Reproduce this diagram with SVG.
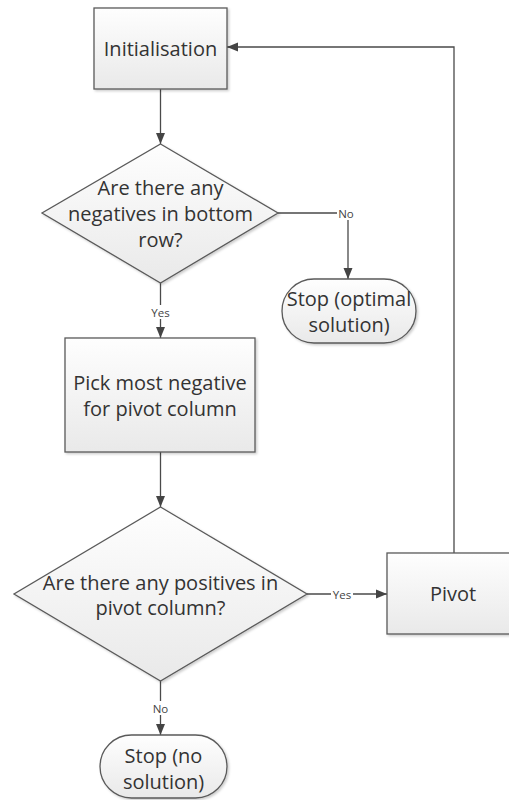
<svg xmlns="http://www.w3.org/2000/svg" width="509" height="800" viewBox="0 0 509 800">
  <defs>
    <linearGradient id="shapeFill" x1="0" y1="0" x2="0" y2="1">
      <stop offset="0" stop-color="#fefefe"/>
      <stop offset="1" stop-color="#e9e9e9"/>
    </linearGradient>
    <filter id="shadow" x="-10%" y="-10%" width="130%" height="130%">
      <feDropShadow dx="1.5" dy="1.5" stdDeviation="1.2" flood-color="#000" flood-opacity="0.2"/>
    </filter>
    <marker id="arrow" markerUnits="userSpaceOnUse" markerWidth="12" markerHeight="12" viewBox="0 0 12 12" refX="11" refY="6" orient="auto">
      <path d="M0,1.5 L11,6 L0,10.5 Z" fill="#444"/>
    </marker>
    <style>
      .shape { fill: url(#shapeFill); stroke: #5a5a5a; stroke-width: 1.3; filter: url(#shadow); }
      .label { font-family: "Open Sans", "Liberation Sans", sans-serif; font-size: 20px; fill: #333; text-anchor: middle; dominant-baseline: central; }
      .small { font-family: "Open Sans", "Liberation Sans", sans-serif; font-size: 11.5px; fill: #444; text-anchor: middle; dominant-baseline: central; }
      .edge { fill: none; stroke: #4a4a4a; stroke-width: 1.3; marker-end: url(#arrow); }
      .tag-bg { fill: #fff; }
    </style>
  </defs>

  <rect width="509" height="800" fill="#fff"/>

  <!-- connectors -->
  <g id="connectors">
    <path class="edge" d="M160.5,89 V144"/>
    <path class="edge" d="M278,213 H348 V279"/>
    <path class="edge" d="M160.5,283 V338"/>
    <path class="edge" d="M160.5,452 V507"/>
    <path class="edge" d="M307,594 H387"/>
    <path class="edge" d="M160.5,681 V735"/>
    <path class="edge" d="M454,553 V47 H227"/>

    <rect class="tag-bg" x="337" y="206" width="18" height="14"/>
    <text class="small" x="346" y="213">No</text>
    <rect class="tag-bg" x="150" y="305" width="21" height="14"/>
    <text class="small" x="160.5" y="312">Yes</text>
    <rect class="tag-bg" x="331" y="587" width="22" height="14"/>
    <text class="small" x="342" y="594">Yes</text>
    <rect class="tag-bg" x="151" y="701" width="19" height="14"/>
    <text class="small" x="160.5" y="708">No</text>
  </g>

  <!-- nodes -->
  <g id="init">
    <rect class="shape" x="94" y="8" width="133" height="81"/>
    <text class="label" x="160.5" y="48.5">Initialisation</text>
  </g>

  <g id="check-negatives">
    <polygon class="shape" points="160.5,144 278,213 160.5,283 42,213"/>
    <text class="label" x="160.5" y="187">Are there any</text>
    <text class="label" x="160.5" y="213">negatives in bottom</text>
    <text class="label" x="160.5" y="239">row?</text>
  </g>

  <g id="stop-optimal">
    <rect class="shape" x="282" y="279" width="134" height="64" rx="32" ry="32"/>
    <text class="label" x="349" y="298">Stop (optimal</text>
    <text class="label" x="349" y="324">solution)</text>
  </g>

  <g id="pick-column">
    <rect class="shape" x="65" y="338" width="190" height="114"/>
    <text class="label" x="160" y="382">Pick most negative</text>
    <text class="label" x="160" y="408">for pivot column</text>
  </g>

  <g id="check-positives">
    <polygon class="shape" points="160.5,507 307,594 160.5,681 14,594"/>
    <text class="label" x="160.5" y="582">Are there any positives in</text>
    <text class="label" x="160.5" y="607">pivot column?</text>
  </g>

  <g id="pivot">
    <rect class="shape" x="387" y="553" width="133" height="81"/>
    <text class="label" x="453" y="593">Pivot</text>
  </g>

  <g id="stop-none">
    <rect class="shape" x="100" y="735" width="127" height="63" rx="31.5" ry="31.5"/>
    <text class="label" x="163.5" y="755">Stop (no</text>
    <text class="label" x="163.5" y="781">solution)</text>
  </g>
</svg>
